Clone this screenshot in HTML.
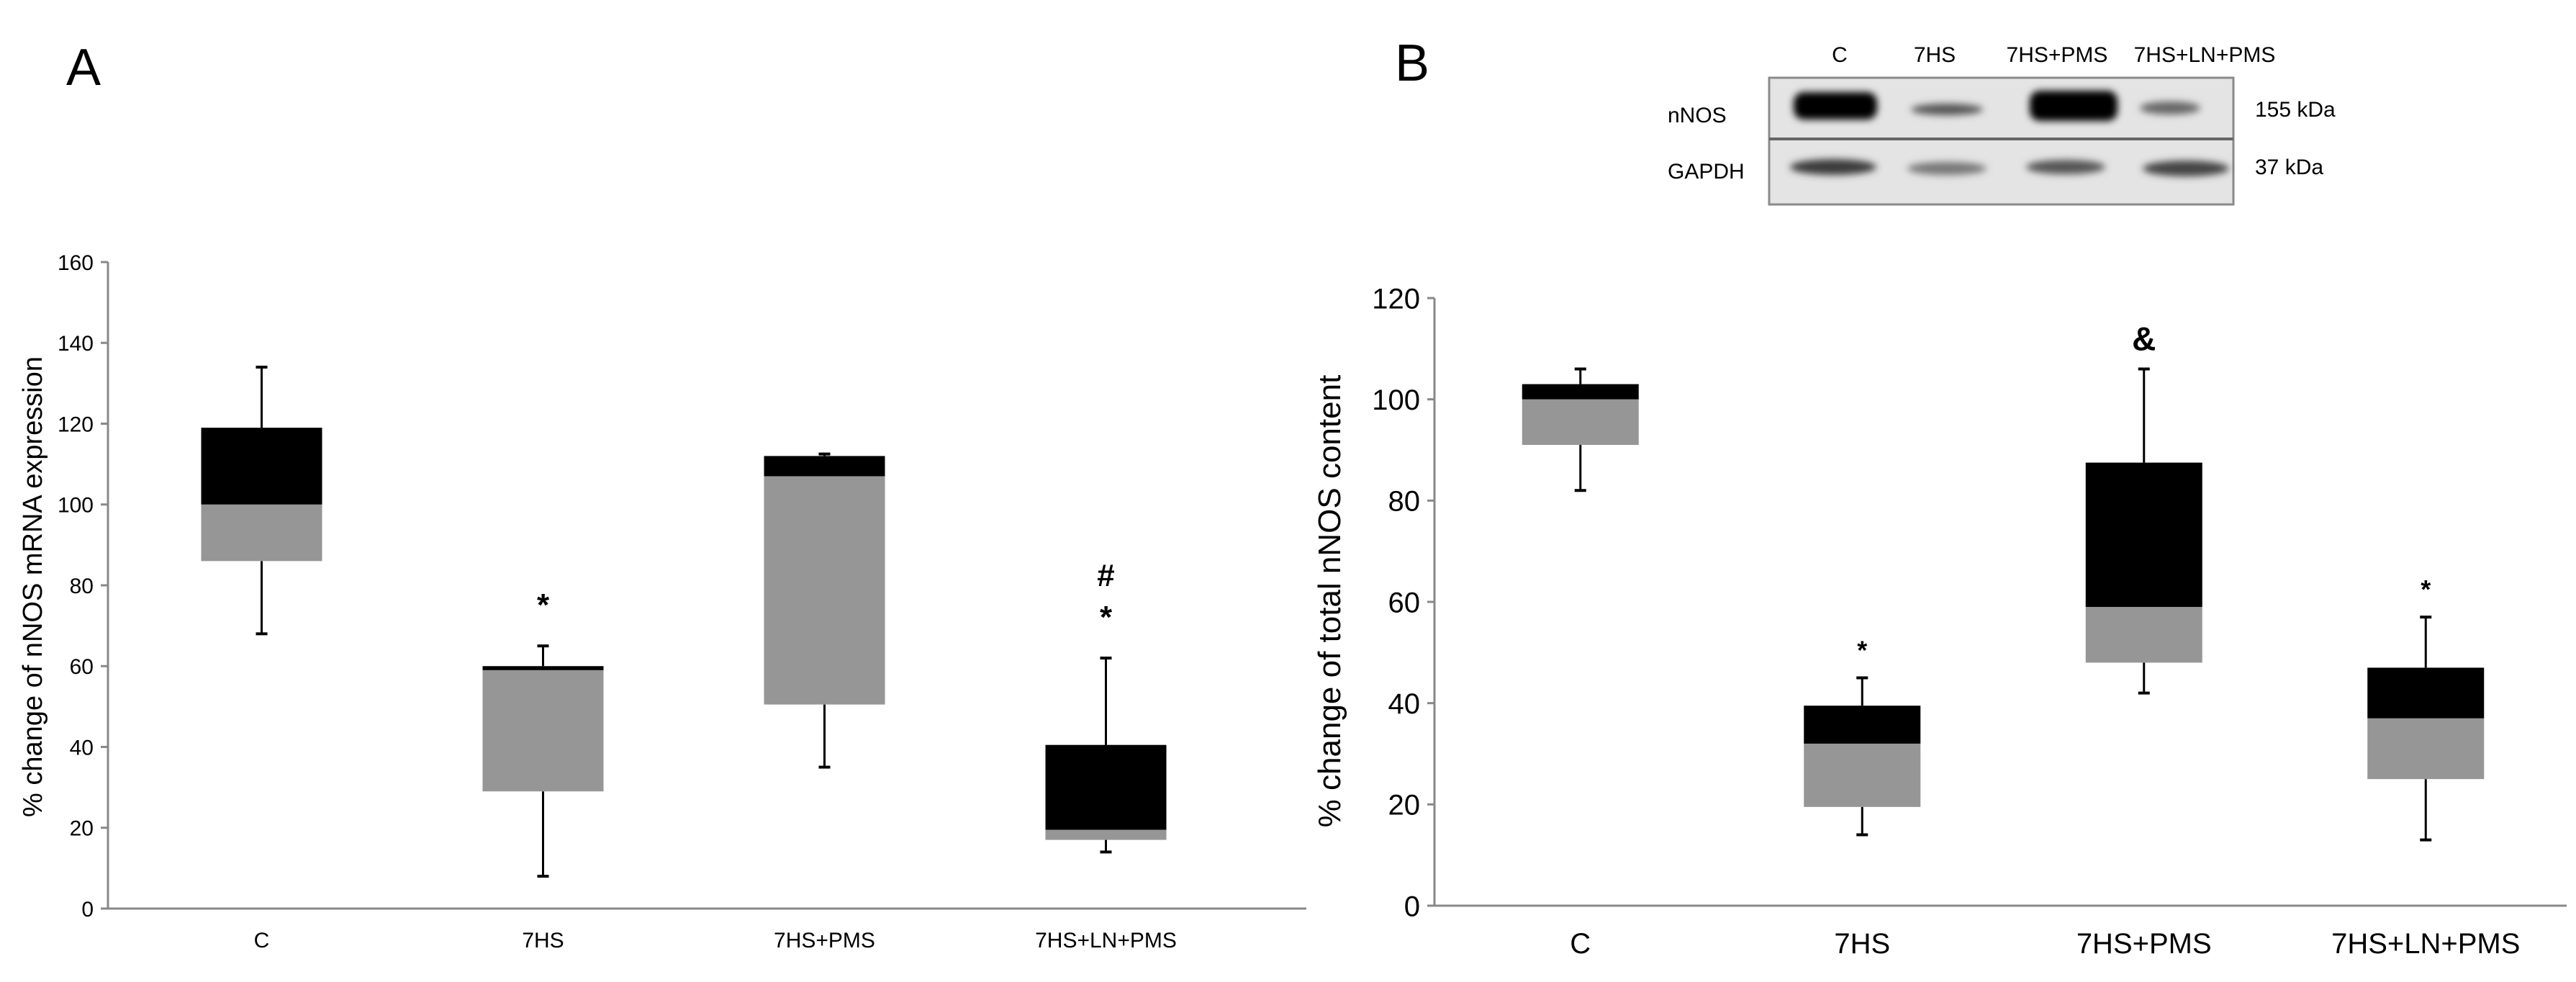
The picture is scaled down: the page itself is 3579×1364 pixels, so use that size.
<!DOCTYPE html>
<html><head><meta charset="utf-8">
<style>
html,body{margin:0;padding:0;background:#fff;}
svg{display:block;font-family:"Liberation Sans",Arial,sans-serif;}
</style></head>
<body>
<svg id="fig" width="3579" height="1364" viewBox="0 0 3579 1364" xmlns="http://www.w3.org/2000/svg">
  <defs>
    <filter id="blur" x="-20%" y="-50%" width="140%" height="200%"><feGaussianBlur stdDeviation="5"/></filter>
  </defs>
  <text x="92" y="118" font-size="72">A</text>
  <text x="1938" y="112" font-size="72">B</text>

  <g>
    <rect x="2458" y="108" width="645" height="176" fill="#e4e4e4" stroke="#8a8a8a" stroke-width="3"/>
    <line x1="2458" y1="193" x2="3103" y2="193" stroke="#666" stroke-width="4"/>
    <g filter="url(#blur)">
      <rect x="2492" y="128" width="116" height="38" rx="14" fill="#000"/>
      <ellipse cx="2705" cy="152" rx="50" ry="8" fill="#555"/>
      <rect x="2820" y="126" width="122" height="42" rx="14" fill="#000"/>
      <ellipse cx="3015" cy="150" rx="42" ry="9" fill="#666"/>
      <ellipse cx="2547" cy="232" rx="60" ry="11" fill="#3a3a3a"/>
      <ellipse cx="2705" cy="234" rx="55" ry="9" fill="#777"/>
      <ellipse cx="2870" cy="232" rx="55" ry="10" fill="#555"/>
      <ellipse cx="3037" cy="234" rx="60" ry="11" fill="#444"/>
    </g>
    <text x="2556" y="86" font-size="30" text-anchor="middle">C</text>
    <text x="2688" y="86" font-size="30" text-anchor="middle">7HS</text>
    <text x="2858" y="86" font-size="30" text-anchor="middle">7HS+PMS</text>
    <text x="3063" y="86" font-size="30" text-anchor="middle">7HS+LN+PMS</text>
    <text x="2317" y="170" font-size="30">nNOS</text>
    <text x="2317" y="248" font-size="30">GAPDH</text>
    <text x="3133" y="162" font-size="30">155 kDa</text>
    <text x="3133" y="242" font-size="30">37 kDa</text>
  </g>

  <g id="chartA"></g>
  <g id="chartB"></g>
</svg>
<script>
// Chart A data
const categoriesA = ["C", "7HS", "7HS+PMS", "7HS+LN+PMS"];
const whiskerLowA = [68, 8, 35, 14];
const q1A = [86, 29, 50.5, 17];
const medianA = [100, 59, 107, 19.5];
const q3A = [119, 60, 112, 40.5];
const whiskerHighA = [134, 65, 112.5, 62];
const ticksA = [0, 20, 40, 60, 80, 100, 120, 140, 160];
const annotationsA = [[], ["*"], [], ["*", "#"]];

// Chart B data
const categoriesB = ["C", "7HS", "7HS+PMS", "7HS+LN+PMS"];
const whiskerLowB = [82, 14, 42, 13];
const q1B = [91, 19.5, 48, 25];
const medianB = [100, 32, 59, 37];
const q3B = [103, 39.5, 87.5, 47];
const whiskerHighB = [106, 45, 106, 57];
const ticksB = [0, 20, 40, 60, 80, 100, 120];
const annotationsB = [[], ["*"], ["&"], ["*"]];

const NS = "http://www.w3.org/2000/svg";
function mk(tag, attrs, parent, txt) {
  const e = document.createElementNS(NS, tag);
  for (const k in attrs) e.setAttribute(k, attrs[k]);
  if (txt !== undefined) e.textContent = txt;
  parent.appendChild(e);
  return e;
}

function drawChart(g, cfg) {
  const y = v => cfg.y0 - (v - cfg.ymin) / (cfg.ymax - cfg.ymin) * (cfg.y0 - cfg.yTop);
  const x = i => cfg.bandStart + (i + 0.5) * (cfg.bandEnd - cfg.bandStart) / cfg.cats.length;
  const yAxis = mk("line", {x1: cfg.xStart, y1: y(cfg.ymax), x2: cfg.xStart, y2: cfg.y0, stroke: "#888", "stroke-width": 3}, g);
  
  
  const xAxis = mk("line", {x1: cfg.xStart, y1: cfg.y0, x2: cfg.xEnd, y2: cfg.y0, stroke: "#888", "stroke-width": 3}, g);
  
  
  cfg.ticks.forEach(t => {
    const tk = mk("line", {x1: cfg.xStart - 10, y1: y(t), x2: cfg.xStart, y2: y(t), stroke: "#888", "stroke-width": 3}, g);
    
    
    const tl = mk("text", {x: cfg.xStart - 20, y: y(t) + cfg.tickFs * 0.36, "font-size": cfg.tickFs, "text-anchor": "end"}, g, String(t));
    
    
  });
  const title = mk("text", {x: 0, y: 0, "font-size": cfg.titleFs, "text-anchor": "middle",
    transform: "translate(" + cfg.titleX + "," + cfg.titleY + ") rotate(-90)"}, g, cfg.title);
  
  
  cfg.cats.forEach((c, i) => {
    const cx = x(i), hw = cfg.boxW / 2;
    const wl = mk("line", {x1: cx, y1: y(cfg.wl[i]), x2: cx, y2: y(cfg.q1[i]), stroke: "#000", "stroke-width": 3}, g);
    
    
    const wh = mk("line", {x1: cx, y1: y(cfg.wh[i]), x2: cx, y2: y(cfg.q3[i]), stroke: "#000", "stroke-width": 3}, g);
    
    
    const cl = mk("line", {x1: cx - 8, y1: y(cfg.wl[i]), x2: cx + 8, y2: y(cfg.wl[i]), stroke: "#000", "stroke-width": 4}, g);
    
    
    const ch = mk("line", {x1: cx - 8, y1: y(cfg.wh[i]), x2: cx + 8, y2: y(cfg.wh[i]), stroke: "#000", "stroke-width": 4}, g);
    
    
    const lo = mk("rect", {x: cx - hw, y: y(cfg.med[i]), width: cfg.boxW, height: y(cfg.q1[i]) - y(cfg.med[i]), fill: "#969696"}, g);
    
    
    const hi = mk("rect", {x: cx - hw, y: y(cfg.q3[i]), width: cfg.boxW, height: Math.max(y(cfg.med[i]) - y(cfg.q3[i]), 0), fill: "#000"}, g);
    
    
    const lab = mk("text", {x: cx, y: cfg.y0 + cfg.catDy, "font-size": cfg.catFs, "text-anchor": "middle"}, g, c);
    
    
    cfg.ann[i].forEach((a, k) => {
      const an = mk("text", {x: cx, y: y(cfg.wh[i]) - cfg.annGap - k * cfg.annStep, "font-size": a === '&' ? cfg.annFs + 10 : cfg.annFs, "text-anchor": "middle", "font-weight": "bold"}, g, a);
      
      
    });
  });
}

drawChart(document.getElementById("chartA"), {
  cats: categoriesA, wl: whiskerLowA, q1: q1A, med: medianA, q3: q3A, wh: whiskerHighA, ticks: ticksA, ann: annotationsA,
  ymin: 0, ymax: 160, y0: 1262, yTop: 364, xStart: 150, xEnd: 1815, bandStart: 168, bandEnd: 1732, boxW: 168,
  tickFs: 30, titleFs: 38, title: "% change of nNOS mRNA expression", titleX: 58, titleY: 815,
  catFs: 30, catDy: 54, annFs: 44, annGap: 42, annStep: 58
});
drawChart(document.getElementById("chartB"), {
  cats: categoriesB, wl: whiskerLowB, q1: q1B, med: medianB, q3: q3B, wh: whiskerHighB, ticks: ticksB, ann: annotationsB,
  ymin: 0, ymax: 120, y0: 1258, yTop: 414, xStart: 1993, xEnd: 3566, bandStart: 2000, bandEnd: 3566, boxW: 162,
  tickFs: 40, titleFs: 44, title: "% change of total nNOS content", titleX: 1862, titleY: 835,
  catFs: 40, catDy: 66, annFs: 36, annGap: 26, annStep: 50
});
</script>
</body></html>
